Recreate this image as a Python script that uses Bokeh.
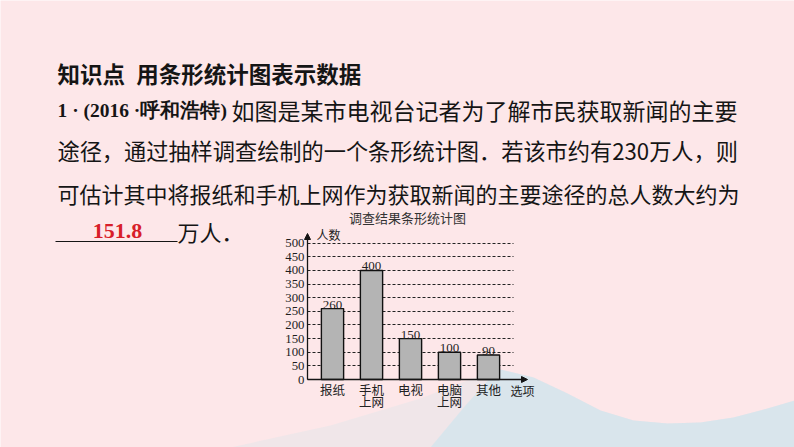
from bokeh.plotting import figure
from bokeh.models import Range1d, FixedTicker, Label, Arrow, NormalHead, PolyAnnotation
from bokeh.core.properties import value
from bokeh.embed import file_html
from bokeh.resources import INLINE

# ---------------- data ----------------
categories = ["报纸", "手机\n上网", "电视", "电脑\n上网", "其他"]
counts = [260, 400, 150, 100, 90]
y_ticks = [0, 50, 100, 150, 200, 250, 300, 350, 400, 450, 500]

chart_title = "调查结果条形统计图"
y_title = "人数"
x_title = "选项"
heading = "知识点\u2002用条形统计图表示数据"
q_head = "1 · (2016 ·呼和浩特)"
q_line1 = "如图是某市电视台记者为了解市民获取新闻的主要"
q_line2 = "途径，通过抽样调查绘制的一个条形统计图．若该市约有230万人，则"
q_line3 = "可估计其中将报纸和手机上网作为获取新闻的主要途径的总人数大约为"
answer = "151.8"
answer_unit = "万人．"

# ---------------- layout / style ----------------
W, H = 794, 447
AX_X, AX_Y = 307, 379          # page position of the chart origin (y axis / baseline)
GRID_END = 513                 # page x where dotted grid lines stop
ARROW_END = 527                # page x of the x-axis arrow tip
ARROW_TOP = 233                # page y of the y-axis arrow tip
STEP = 39.0                    # px per category
PX_PER_UNIT = (379 - 242.7) / 500.0
PINK = "#fde7e9"
BLUE = "#d6e4ec"
INK = "#151515"
CJK = "Noto Sans CJK SC"
SERIF = "Liberation Serif"

xs = list(range(len(categories)))
x0 = -(332 - AX_X) / STEP                      # data x of the y axis


def dx(px):
    return x0 + (px - AX_X) / STEP


def dy(py):
    return (AX_Y - py) / PX_PER_UNIT


p = figure(width=W, height=H, x_range=Range1d(dx(0), dx(W)), y_range=Range1d(dy(H), dy(0)),
           output_backend="svg", toolbar_location=None,
           min_border=0, min_border_left=0, min_border_right=0,
           min_border_top=0, min_border_bottom=0,
           background_fill_color=PINK, border_fill_color=PINK,
           outline_line_color=None)

# background wave (screen units: x from left, y from bottom)
wave1_x = [230, 330, 420, 480, 500, 533, 567, 600, 633, 667, 700, 733, 767, 794, 794]
wave1_y = [447, 425, 398, 375, 369, 377, 393, 410, 420, 423, 422, 417, 408, 400, 447]
wave2_x = [430, 465, 490, 500, 533, 567, 600, 633, 667, 700, 733, 767, 794, 794]
wave2_y = [447, 405, 377, 369, 377, 393, 410, 420, 423, 422, 417, 408, 400, 447]
p.add_layout(PolyAnnotation(xs=wave1_x, ys=[H - y for y in wave1_y],
                            xs_units="screen", ys_units="screen", level="underlay",
                            fill_color=BLUE, fill_alpha=0.35, line_color=None))
p.add_layout(PolyAnnotation(xs=wave2_x, ys=[H - y for y in wave2_y],
                            xs_units="screen", ys_units="screen", level="underlay",
                            fill_color=BLUE, fill_alpha=0.9, line_color=None))

# axes placed at the chart origin
p.xaxis.fixed_location = 0
p.yaxis.fixed_location = x0

p.xaxis.ticker = FixedTicker(ticks=xs)
p.xaxis.major_label_overrides = {i: c for i, c in enumerate(categories)}
p.xaxis.axis_line_color = None
p.xaxis.major_tick_line_color = None
p.xaxis.minor_tick_line_color = None
p.xaxis.major_tick_in = 0
p.xaxis.major_tick_out = 0
p.xaxis.minor_tick_out = 0
p.xaxis.major_label_text_font = CJK
p.xaxis.major_label_text_font_size = "12.5px"
p.xaxis.major_label_text_color = "#222222"
p.xaxis.major_label_text_line_height = 0.67
p.xaxis.major_label_standoff = 0

p.yaxis.ticker = FixedTicker(ticks=y_ticks)
p.yaxis.axis_line_color = None
p.yaxis.major_tick_line_color = None
p.yaxis.minor_tick_line_color = None
p.yaxis.major_tick_in = 0
p.yaxis.major_tick_out = 0
p.yaxis.minor_tick_out = 0
p.yaxis.major_label_text_font = SERIF
p.yaxis.major_label_text_font_size = "12.8px"
p.yaxis.major_label_text_color = "#1e1e1e"
p.yaxis.major_label_standoff = 3

p.xgrid.visible = False
p.ygrid.ticker = FixedTicker(ticks=y_ticks)
p.ygrid.grid_line_color = "#222222"
p.ygrid.grid_line_dash = "3 2"
p.ygrid.grid_line_width = 1.1
p.ygrid.cross_bounds = (x0, dx(GRID_END))

# bars and values
p.vbar(x=xs, top=counts, width=0.57, fill_color="#b4b4b4",
       line_color="#111111", line_width=1.4)
p.text(x=xs, y=counts, text=[str(v) for v in counts], text_align="center",
       text_baseline="bottom", text_font=value(SERIF),
       text_font_size="13px", text_color="#1e1e1e")

# axis arrows
p.add_layout(Arrow(end=NormalHead(size=6, fill_color=INK, line_color=INK),
                   x_start=x0, y_start=0, x_end=x0, y_end=dy(ARROW_TOP),
                   line_color=INK, line_width=1.3))
p.add_layout(Arrow(end=NormalHead(size=6, fill_color=INK, line_color=INK),
                   x_start=x0, y_start=0, x_end=dx(ARROW_END), y_end=0,
                   line_color=INK, line_width=1.3))


def put(text, sx, sy, size, font, bold=False, color=INK, align="left"):
    p.add_layout(Label(x=sx, y=H - sy, x_units="screen", y_units="screen",
                       text=text, text_font=font, text_font_size=f"{size}px",
                       text_font_style="bold" if bold else "normal",
                       text_color=color, text_align=align, text_baseline="middle"))


put(chart_title, 407, 217, 13, CJK, color="#333333", align="center")
put(y_title, 316, 234, 12, CJK, color="#222222")
put(x_title, 510, 390, 12, CJK, color="#222222")

put(heading, 57, 72, 22.5, CJK, bold=True)
put(q_head, 57, 109.5, 19.5, SERIF, bold=True)
put(q_line1, 231, 109.5, 23, CJK)
put(q_line2, 57, 149.5, 22.2, CJK)
put(q_line3, 57, 192.5, 22, CJK)
put(answer, 117, 230, 22, SERIF, bold=True, color="#d81e2a", align="center")
put(answer_unit, 177, 230.5, 22, CJK)
p.add_layout(Arrow(end=None, x_start=55, y_start=H - 241, x_end=177, y_end=H - 241,
                   start_units="screen", end_units="screen",
                   line_color=INK, line_width=1.2))

open("out.html", "w").write(file_html(p, INLINE))
